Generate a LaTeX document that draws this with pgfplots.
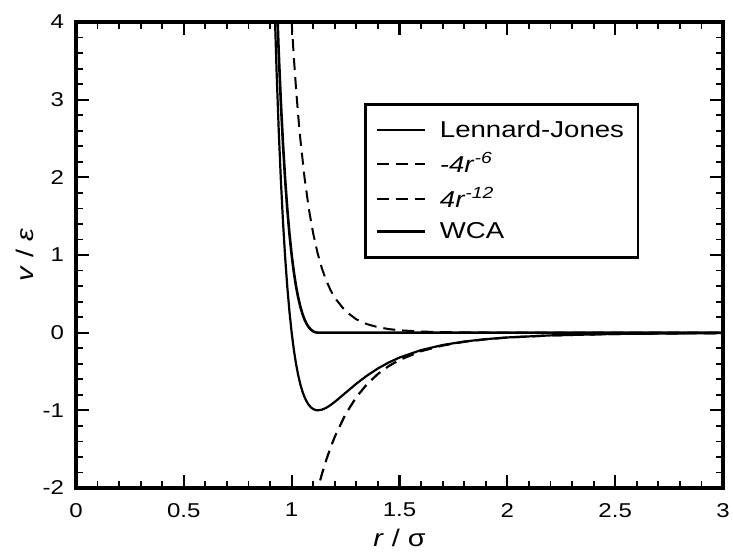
\documentclass[border=0pt]{standalone}
\usepackage{fontspec}
\setmainfont{Liberation Sans}[FakeStretch=1.2]
\usepackage{pgfplots}
\pgfplotsset{compat=1.18}

\begin{document}
\begin{tikzpicture}
\useasboundingbox (-38pt,-32pt) rectangle (328.5pt,244pt);
\begin{axis}[
  at={(0,0)}, anchor=south west,
  scale only axis, width=323.5pt, height=233pt,
  xmin=0, xmax=3, ymin=-2, ymax=4,
  xtick={0,0.5,1,1.5,2,2.5,3}, xticklabels={0,0.5,1,1.5,2,2.5,3},
  ytick={-2,-1,0,1,2,3,4}, yticklabels={-2,-1,0,1,2,3,4},
  minor x tick num=4, minor y tick num=4,
  tick align=inside,
  major tick length=6.5pt, minor tick length=3.5pt,
  major tick style={line width=1.1pt, black},
  minor tick style={line width=0.9pt, black},
  axis line style={line width=1.6pt},
  tick label style={font=\fontsize{10}{12}\selectfont},
  yticklabel style={xshift=-2.5pt},
  xticklabel style={yshift=-4pt},
  xlabel={\textit{r} / σ}, ylabel={\textit{v} / \textit{ε}},
  every axis x label/.style={at={(axis description cs:0.5,-0.108)}, anchor=center,
    font=\fontsize{12}{14}\selectfont},
  every axis y label/.style={at={(axis description cs:-0.079,0.5)}, rotate=90,
    anchor=center, font=\fontsize{12}{14}\selectfont},
  legend style={at={(axis description cs:0.445,0.826)}, anchor=north west,
    draw=black, line width=1.4pt, font=\fontsize{11.5}{13}\selectfont,
    row sep=2pt, inner xsep=5pt, inner ysep=6pt,
    /tikz/every odd column/.append style={column sep=5pt}},
  legend cell align=left,
  legend image code/.code={\draw[#1] (0pt,0pt) -- (24pt,0pt);},
]
% Lennard-Jones
\addplot[black, line width=1.1pt] coordinates {
  (0.92,4.2826)(0.93,3.3733)(0.94,2.6066)(0.95,1.9610)(0.96,1.4182)
  (0.97,0.9629)(0.98,0.5819)(0.99,0.2641)(1.00,0)(1.01,-0.2184)
  (1.02,-0.3979)(1.03,-0.5444)(1.04,-0.6629)(1.05,-0.7575)(1.06,-0.8320)
  (1.07,-0.8893)(1.08,-0.9322)(1.09,-0.9629)(1.10,-0.9834)(1.11,-0.9952)
  (1.12,-0.9998)(1.14,-0.9921)(1.16,-0.9679)(1.18,-0.9328)(1.20,-0.8910)
  (1.25,-0.7737)(1.30,-0.6570)(1.35,-0.5516)(1.40,-0.4607)(1.45,-0.3841)
  (1.50,-0.3203)(1.60,-0.2242)(1.70,-0.1589)(1.80,-0.1141)(1.90,-0.0832)
  (2.00,-0.0615)(2.20,-0.0350)(2.50,-0.0163)(3.00,-0.0055)
};
\addlegendentry{Lennard-Jones}
% -4 r^-6
\addplot[black, line width=1.1pt, dash pattern=on 6pt off 3.5pt] coordinates {
  (1.11,-2.1386)(1.12,-2.0265)(1.14,-1.8223)(1.16,-1.6418)(1.18,-1.4817)
  (1.20,-1.3396)(1.25,-1.0486)(1.30,-0.8287)(1.35,-0.6608)(1.40,-0.5312)
  (1.45,-0.4304)(1.50,-0.3512)(1.60,-0.2384)(1.70,-0.1657)(1.80,-0.1176)
  (1.90,-0.0850)(2.00,-0.0625)(2.20,-0.0353)(2.50,-0.0164)(3.00,-0.0055)
};
\addlegendentry{\textit{-4r}\textsuperscript{\textit{-6}}}
% 4 r^-12
\addplot[black, line width=1pt, dash pattern=on 6pt off 3.5pt] coordinates {
  (0.99,4.5127)(1.00,4.0)(1.01,3.5498)(1.02,3.1540)(1.03,2.8055)
  (1.04,2.4984)(1.06,1.9879)(1.08,1.5885)(1.10,1.2745)(1.12,1.0267)
  (1.14,0.8302)(1.16,0.6739)(1.18,0.5489)(1.20,0.4486)(1.25,0.2749)
  (1.30,0.1717)(1.35,0.1092)(1.40,0.0706)(1.45,0.0463)(1.50,0.0308)
  (1.60,0.0142)(1.70,0.0069)(1.80,0.0035)(2.00,0.0010)(2.50,0.0001)(3.00,0.0000)
};
\addlegendentry{\textit{4r}\textsuperscript{\textit{-12}}}
% WCA
\addplot[black, line width=1.3pt] coordinates {
  (0.93,4.3733)(0.94,3.6066)(0.95,2.9610)(0.96,2.4182)(0.97,1.9629)
  (0.98,1.5819)(0.99,1.2641)(1.00,1.0)(1.01,0.7816)(1.02,0.6021)
  (1.03,0.4556)(1.04,0.3371)(1.05,0.2425)(1.06,0.1680)(1.07,0.1107)
  (1.08,0.0678)(1.09,0.0371)(1.10,0.0166)(1.11,0.0048)(1.1225,0)(3.00,0)
};
\addlegendentry{WCA}
\end{axis}
\end{tikzpicture}
\end{document}
